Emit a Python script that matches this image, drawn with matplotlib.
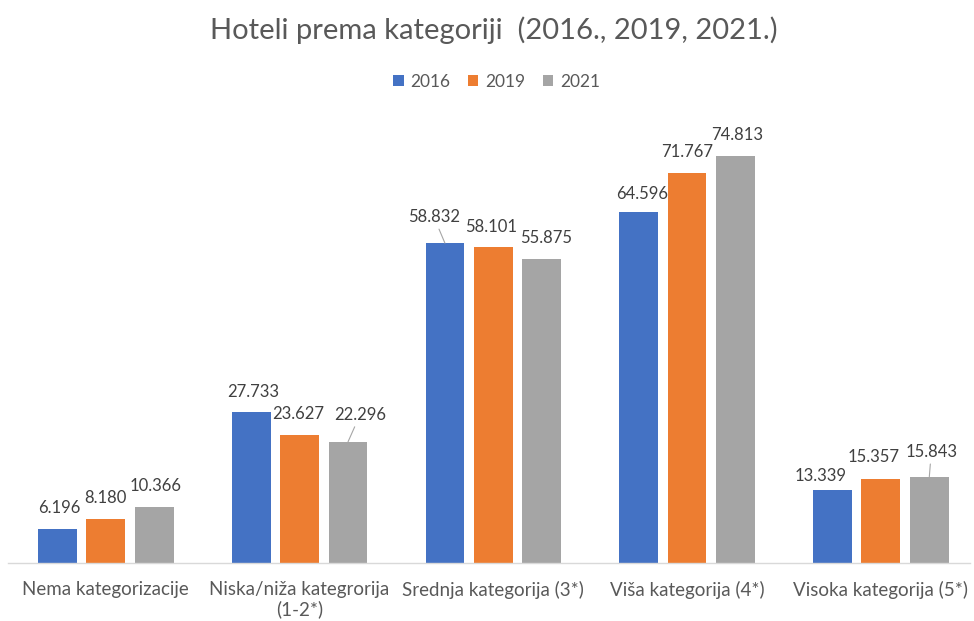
import matplotlib
matplotlib.use("Agg")
import matplotlib.pyplot as plt
from matplotlib.patches import Patch
import numpy as np

# ----- podaci -----
categories = [
    "Nema kategorizacije",
    "Niska/niža kategrorija\n(1-2*)",
    "Srednja kategorija (3*)",
    "Viša kategorija (4*)",
    "Visoka kategorija (5*)",
]
years = ["2016", "2019", "2021"]
v2016 = [6.196, 27.733, 58.832, 64.596, 13.339]
v2019 = [8.180, 23.627, 58.101, 71.767, 15.357]
v2021 = [10.366, 22.296, 55.875, 74.813, 15.843]

colors = ["#4472C4", "#ED7D31", "#A5A5A5"]

# pomaci oznaka (px) od vrha stupca, kao u Excelu
label_offsets = [
    [(2, 21), (2, 20), (-11, 26), (3, 18), (-12, 14)],
    [(0, 21), (-1, 21), (-2, 20), (0, 21), (-7, 22)],
    [(1, 21), (12, 27), (4, 21), (2, 21), (2, 25)],
]
leaders = {(0, 2), (2, 1), (2, 4)}

plt.rcParams["font.family"] = ["Lato", "DejaVu Sans"]

fig = plt.figure(figsize=(9.74, 6.21), dpi=100)
ax = fig.add_axes([8 / 974, 58 / 621, 962 / 974, 435 / 621])

x = np.arange(len(categories))
width = 0.2
step = 0.25
series = [v2016, v2019, v2021]

for i, vals in enumerate(series):
    pos = x + (i - 1) * step
    ax.bar(pos, vals, width, color=colors[i], zorder=2)
    for j, v in enumerate(vals):
        dx, dy = label_offsets[i][j]
        txt = f"{v:.3f}"
        kw = {}
        if (i, j) in leaders:
            kw["arrowprops"] = dict(arrowstyle="-", color="#A6A6A6", lw=0.8,
                                    shrinkA=1, shrinkB=0)
        ax.annotate(txt, xy=(pos[j], v), xytext=(dx, dy),
                    textcoords="offset pixels", ha="center", va="center",
                    fontsize=12, color="#404040", **kw)

ax.set_xlim(-0.505, 4.46)
ax.set_ylim(0, 80)
ax.set_yticks([])
ax.set_xticks(x)
ax.set_xticklabels(categories, fontsize=13.5, color="#595959", linespacing=1.15)
ax.tick_params(axis="x", length=0, pad=13)
for s in ["top", "right", "left"]:
    ax.spines[s].set_visible(False)
ax.spines["bottom"].set_color("#D9D9D9")
ax.spines["bottom"].set_linewidth(1.0)

fig.text(0.507, 1 - 30 / 621, "Hoteli prema kategoriji  (2016., 2019, 2021.)",
         ha="center", va="center", fontsize=21, color="#595959")

handles = [Patch(facecolor=c, edgecolor="none") for c in colors]
fig.legend(handles, years, loc="center", bbox_to_anchor=(0.510, 1 - 82 / 621),
           ncol=3, frameon=False, fontsize=12.5, handlelength=0.6, handleheight=0.6,
           handletextpad=0.4, columnspacing=1.0, labelcolor="#595959")

fig.savefig("out.png", dpi=100)
